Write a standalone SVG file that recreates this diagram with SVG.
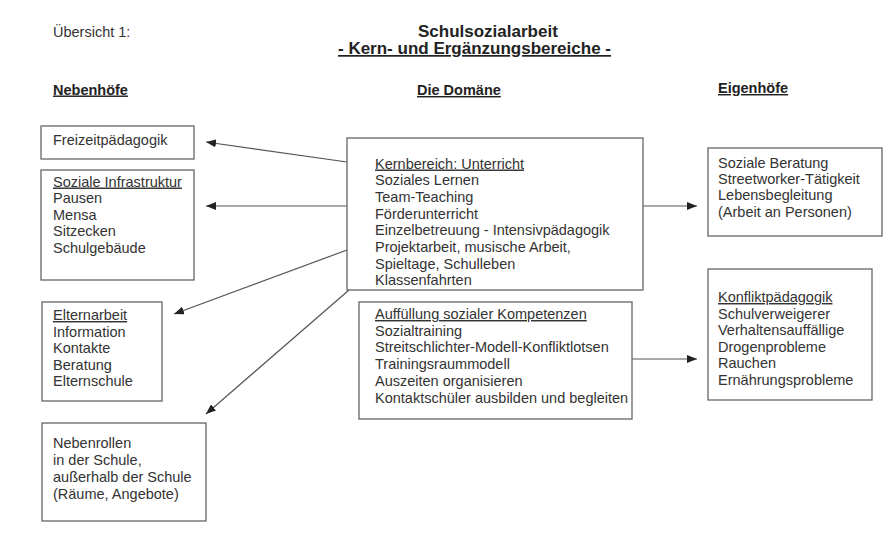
<svg xmlns="http://www.w3.org/2000/svg" width="893" height="536" viewBox="0 0 893 536">
<style>
text{font-family:"Liberation Sans",Arial,sans-serif;font-size:14.5px;fill:#333}
.h{font-weight:bold;fill:#222}
.t{font-weight:bold;font-size:17px;fill:#222}
.u{text-decoration:underline}
.box{fill:#fff;stroke:#666;stroke-width:1.3}
.con{stroke:#555;stroke-width:1.2;fill:none;marker-end:url(#ah)}
</style>
<defs>
<marker id="ah" viewBox="0 0 10 8" refX="10" refY="4" markerWidth="10" markerHeight="8" markerUnits="userSpaceOnUse" orient="auto">
<path d="M0,0 L10,4 L0,8 Z" fill="#222"/>
</marker>
</defs>
<rect width="893" height="536" fill="#fff"/>
<g id="header">
<text x="53" y="36.5">Übersicht 1:</text>
<text class="t" x="418" y="36.5">Schulsozialarbeit</text>
<text class="t u" x="338" y="54">- Kern- und Ergänzungsbereiche -</text>
<text class="h u" x="53" y="94.5">Nebenhöfe</text>
<text class="h u" x="417" y="95">Die Domäne</text>
<text class="h u" x="718" y="93">Eigenhöfe</text>
</g>
<g id="connectors">
<line class="con" x1="347" y1="162" x2="206" y2="142"/>
<line class="con" x1="347" y1="206" x2="206" y2="206"/>
<line class="con" x1="347" y1="250" x2="174" y2="314"/>
<line class="con" x1="349" y1="290" x2="206" y2="414"/>
<line class="con" x1="643" y1="206" x2="697" y2="206"/>
<line class="con" x1="632" y1="359" x2="697" y2="359"/>
</g>
<g id="freizeit">
<rect class="box" x="41" y="126" width="153" height="33"/>
<text x="53" y="144.5">Freizeitpädagogik</text>
</g>
<g id="infrastruktur">
<rect class="box" x="41" y="170" width="153" height="110"/>
<text x="53" y="186.5"><tspan class="u">Soziale Infrastruktur</tspan><tspan x="53" dy="16.6">Pausen</tspan><tspan x="53" dy="16.6">Mensa</tspan><tspan x="53" dy="16.6">Sitzecken</tspan><tspan x="53" dy="16.6">Schulgebäude</tspan></text>
</g>
<g id="elternarbeit">
<rect class="box" x="42" y="302" width="120" height="99"/>
<text x="53" y="320"><tspan class="u">Elternarbeit</tspan><tspan x="53" dy="16.6">Information</tspan><tspan x="53" dy="16.6">Kontakte</tspan><tspan x="53" dy="16.6">Beratung</tspan><tspan x="53" dy="16.6">Elternschule</tspan></text>
</g>
<g id="nebenrollen">
<rect class="box" x="42" y="423" width="164" height="98"/>
<text x="53" y="448"><tspan>Nebenrollen</tspan><tspan x="53" dy="17">in der Schule,</tspan><tspan x="53" dy="17">außerhalb der Schule</tspan><tspan x="53" dy="17">(Räume, Angebote)</tspan></text>
</g>
<g id="kernbereich">
<rect class="box" x="347" y="138" width="296" height="152"/>
<text x="375" y="168.5"><tspan class="u">Kernbereich: Unterricht</tspan><tspan x="375" dy="16.7">Soziales Lernen</tspan><tspan x="375" dy="16.7">Team-Teaching</tspan><tspan x="375" dy="16.7">Förderunterricht</tspan><tspan x="375" dy="16.7">Einzelbetreuung - Intensivpädagogik</tspan><tspan x="375" dy="16.7">Projektarbeit, musische Arbeit,</tspan><tspan x="375" dy="16.7">Spieltage, Schulleben</tspan><tspan x="375" dy="16.7">Klassenfahrten</tspan></text>
</g>
<g id="kompetenzen">
<rect class="box" x="359" y="302" width="273" height="117"/>
<text x="375" y="319"><tspan class="u">Auffüllung sozialer Kompetenzen</tspan><tspan x="375" dy="16.7">Sozialtraining</tspan><tspan x="375" dy="16.7">Streitschlichter-Modell-Konfliktlotsen</tspan><tspan x="375" dy="16.7">Trainingsraummodell</tspan><tspan x="375" dy="16.7">Auszeiten organisieren</tspan><tspan x="375" dy="16.7">Kontaktschüler ausbilden und begleiten</tspan></text>
</g>
<g id="beratung">
<rect class="box" x="708" y="148" width="174" height="88"/>
<text x="718" y="168"><tspan>Soziale Beratung</tspan><tspan x="718" dy="16.2">Streetworker-Tätigkeit</tspan><tspan x="718" dy="16.2">Lebensbegleitung</tspan><tspan x="718" dy="16.2">(Arbeit an Personen)</tspan></text>
</g>
<g id="konflikt">
<rect class="box" x="708" y="269" width="164" height="131"/>
<text x="718" y="302"><tspan class="u">Konfliktpädagogik</tspan><tspan x="718" dy="16.6">Schulverweigerer</tspan><tspan x="718" dy="16.6">Verhaltensauffällige</tspan><tspan x="718" dy="16.6">Drogenprobleme</tspan><tspan x="718" dy="16.6">Rauchen</tspan><tspan x="718" dy="16.6">Ernährungsprobleme</tspan></text>
</g>
</svg>
